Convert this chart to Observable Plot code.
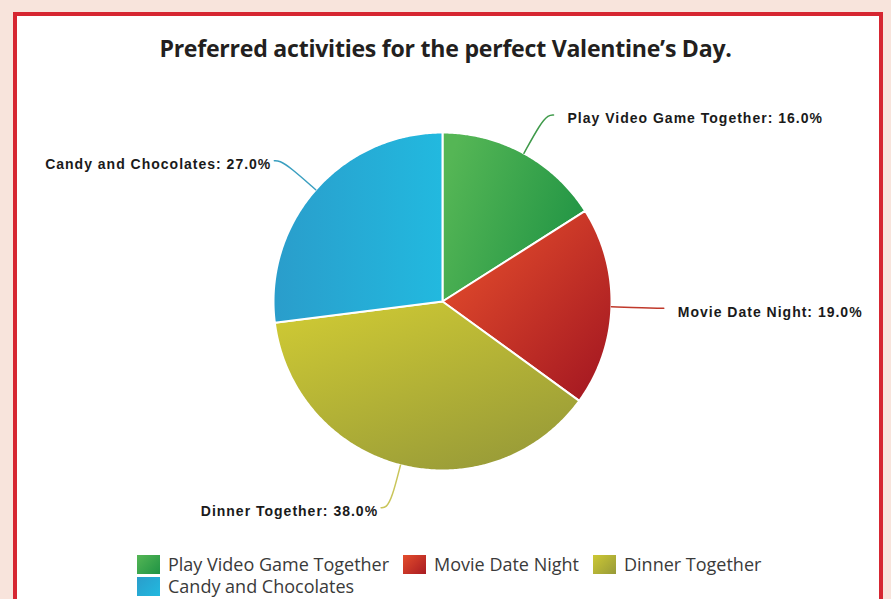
<!DOCTYPE html>
<html><head><meta charset="utf-8">
<script src="https://cdn.jsdelivr.net/npm/d3@7"></script>
<script src="https://cdn.jsdelivr.net/npm/@observablehq/plot@0.6"></script>
<style>
body{margin:0;width:891px;height:599px;overflow:hidden;background:#f8e4dc;position:relative;font-family:"Open Sans",sans-serif}
#box{position:absolute;left:13px;top:12px;width:862px;height:640px;border:4px solid #d62631;background:#fff}
#title{position:absolute;left:0;top:32px;width:891px;text-align:center;font:700 23.1px "Open Sans";color:#231f20;letter-spacing:-0.25px}
#chart{position:absolute;left:0;top:80px}
#legend{position:absolute;left:137px;top:553px;width:690px;display:flex;flex-wrap:wrap;column-gap:14px;row-gap:0;font:18px "Open Sans";color:#3a3a3a;line-height:22px}
.item{display:flex;align-items:center;height:22px}
.sw{width:23px;height:19px;margin-right:8px}
</style></head>
<body>
<div id="box"></div>
<div id="title">Preferred activities for the perfect Valentine’s Day.</div>
<div id="chart"></div>
<div id="legend"></div>
<script>
const categories = ["Play Video Game Together", "Movie Date Night", "Dinner Together", "Candy and Chocolates"];
const values = [16.0, 19.0, 38.0, 27.0];
const gradStops = [["#55b655", "#1f9344"], ["#e44d2c", "#a81b22"], ["#cdc834", "#979a38"], ["#2a9dcb", "#22b9df"]];
const lineColors = ["#3f9a4a", "#c0392b", "#c9c55a", "#3a9fc0"];

const rows = categories.map((c, i) => ({cat: c, value: values[i], i}));
const W = 891, H = 440, cx = 442, cy = 221, R = 169;
const arcs = d3.pie().sort(null).value(d => d.value)(rows);

const slicePts = arcs.flatMap(a => {
  const n = Math.ceil((a.endAngle - a.startAngle) / 0.01);
  const pts = [{cat: a.data.cat, x: 0, y: 0}];
  for (let k = 0; k <= n; k++) {
    const t = a.startAngle + (a.endAngle - a.startAngle) * k / n;
    pts.push({cat: a.data.cat, x: Math.sin(t), y: Math.cos(t)});
  }
  pts.push({cat: a.data.cat, x: 0, y: 0});
  return pts;
});

const leaders = arcs.map(a => {
  const m = (a.startAngle + a.endAngle) / 2, s = Math.sin(m), c = Math.cos(m);
  const side = s >= 0 ? 1 : -1;
  const e = 1.26;
  const pts = [
    {x: s, y: c},
    {x: s * 1.2, y: c * 1.2},
    {x: s * e + side * 0.02, y: c * e},
    {x: s * e + side * 0.05, y: c * e}
  ];
  return {cat: a.data.cat, i: a.data.i, side, pts,
    label: `${a.data.cat}: ${a.data.value.toFixed(1)}%`,
    lx: s * e + side * 0.05, ly: c * e};
});

const labelFont = {fontFamily: "Liberation Sans, Arial, sans-serif", fontWeight: "bold", fontSize: 14, fill: "#1a1a1a"};
const marks = [
  Plot.line(slicePts, {x: "x", y: "y", z: "cat", fill: "cat", stroke: "white", strokeWidth: 2, strokeLinejoin: "round"}),
  ...leaders.map(l => Plot.line(l.pts, {x: "x", y: "y", stroke: lineColors[l.i], strokeWidth: 1.5, curve: "basis"})),
  Plot.text(leaders.filter(l => l.side > 0), {x: "lx", y: "ly", text: "label", textAnchor: "start", dx: 14, dy: 4, ...labelFont}),
  Plot.text(leaders.filter(l => l.side < 0), {x: "lx", y: "ly", text: "label", textAnchor: "end", dx: -3, dy: 4, ...labelFont})
];

const chart = Plot.plot({
  width: W, height: H, margin: 0,
  x: {domain: [-cx / R, (W - cx) / R], axis: null},
  y: {domain: [-(H - cy) / R, cy / R], axis: null},
  color: {domain: categories, range: categories.map((_, i) => `url(#g${i})`)},
  style: {background: "transparent", overflow: "visible"},
  marks
});
d3.select(chart).selectAll("text").style("letter-spacing", "1px");

const defs = d3.select(chart).insert("defs", ":first-child");
const dirs = [[0, 0.3, 1, 0.7], [0.1, 0.1, 0.9, 0.9], [0.2, 0, 0.8, 1], [0, 0.5, 1, 0.5]];
gradStops.forEach((st, i) => {
  const g = defs.append("linearGradient").attr("id", `g${i}`)
    .attr("x1", dirs[i][0]).attr("y1", dirs[i][1]).attr("x2", dirs[i][2]).attr("y2", dirs[i][3]);
  g.append("stop").attr("offset", 0).attr("stop-color", st[0]);
  g.append("stop").attr("offset", 1).attr("stop-color", st[1]);
});
document.getElementById("chart").append(chart);

const lg = d3.select("#legend");
categories.forEach((c, i) => {
  const it = lg.append("div").attr("class", "item");
  it.append("div").attr("class", "sw").style("background", `linear-gradient(135deg, ${gradStops[i][0]}, ${gradStops[i][1]})`);
  it.append("span").text(c);
});
</script>
</body></html>
